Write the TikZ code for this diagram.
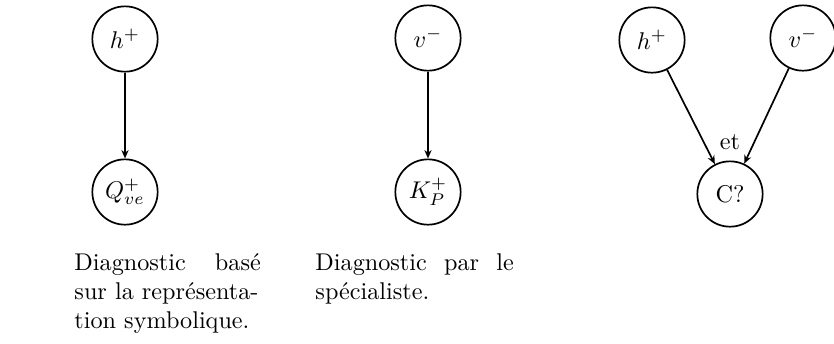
\documentclass[tikz,border=0pt]{standalone}
\usepackage{fontspec}
\usepackage{tikz}
\usetikzlibrary{arrows.meta}

\begin{document}
\begin{tikzpicture}[x=0.4132pt, y=-0.4132pt,
  var/.style={circle, draw, line width=0.7pt, minimum size=27pt, inner sep=0pt},
  link/.style={-{Stealth[length=3.5pt,width=3pt]}, line width=0.7pt},
  caption/.style={anchor=north west, inner sep=0pt, align=left}]
\useasboundingbox (0,0) rectangle (834,343);

% Diagnostic from the symbolic representation
\node[var] (hsym) at (125,39) {$h^+$};
\node[var] (qve) at (125,192) {$Q^+_{ve}$};
\draw[link] (hsym) -- (qve);
\node[caption, text width=77pt] (capsym) at (74,253)
  {Diagnostic\hfill basé\\sur la représenta-\\tion symbolique.};

% Diagnostic by the specialist
\node[var] (vspec) at (428,38) {$v^-$};
\node[var] (kp) at (428,192) {$K^+_P$};
\draw[link] (vspec) -- (kp);
\node[caption, text width=82pt] (capspec) at (315,253)
  {Diagnostic\hfill par\hfill le\\spécialiste.};

% Both together
\node[var] (hboth) at (652,40) {$h^+$};
\node[var] (vboth) at (803,38) {$v^-$};
\node[var] (cq) at (730,194) {C?};
\draw[link] (hboth) -- (cq);
\draw[link] (vboth) -- (cq);
\node (et) at (730,142) {et};

\end{tikzpicture}
\end{document}
